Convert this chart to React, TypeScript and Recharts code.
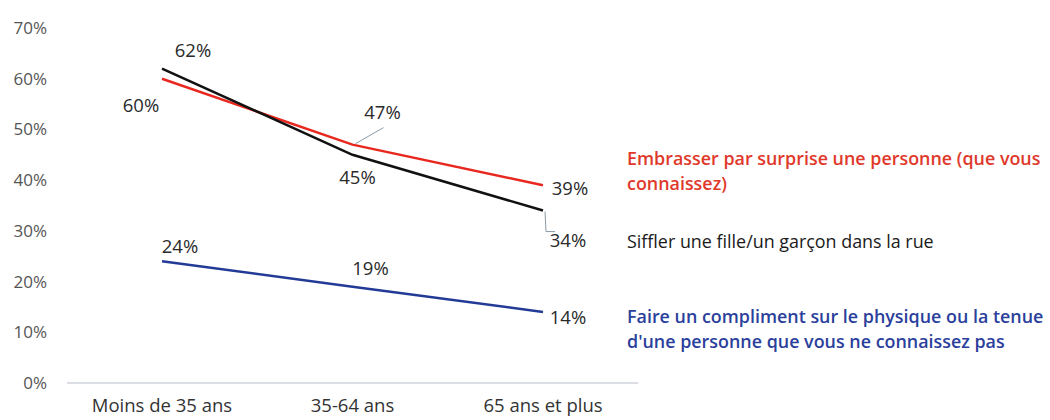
import React from "react";
import { LineChart, Line, XAxis, YAxis, LabelList } from "recharts";

const categories = ["Moins de 35 ans", "35-64 ans", "65 ans et plus"];
const embrasser = [60, 47, 39];
const siffler = [62, 45, 34];
const compliment = [24, 19, 14];
const yTicks = [0, 10, 20, 30, 40, 50, 60, 70];

const seriesNames = {
  embrasser: ["Embrasser par surprise une personne (que vous", "connaissez)"],
  siffler: ["Siffler une fille/un garçon dans la rue"],
  compliment: ["Faire un compliment sur le physique ou la tenue", "d'une personne que vous ne connaissez pas"],
};

const data = categories.map((c, i) => ({
  cat: c,
  embrasser: embrasser[i],
  siffler: siffler[i],
  compliment: compliment[i],
}));

const FONT = "'Open Sans', sans-serif";
const RED = "#e8281e";
const BLACK = "#111111";
const BLUE = "#233a96";

type Off = { dx: number; dy: number; leader?: number[][] };

const offsets: Record<string, Off[]> = {
  embrasser: [{ dx: -21, dy: 26 }, { dx: 30, dy: -33, leader: [[3, -1], [31, -17]] }, { dx: 27, dy: 2 }],
  siffler: [{ dx: 31, dy: -19 }, { dx: 5, dy: 22 }, { dx: 25, dy: 29, leader: [[2, 1], [3, 21], [12, 21]] }],
  compliment: [{ dx: 18, dy: -16 }, { dx: 18, dy: -19 }, { dx: 25, dy: 4 }],
};

const legendStyle: Record<string, { color: string; weight: number; dy: number[] }> = {
  embrasser: { color: "#e0392b", weight: 600, dy: [-27, -2] },
  siffler: { color: "#1a1a1a", weight: 400, dy: [30] },
  compliment: { color: "#2b3f9c", weight: 600, dy: [4, 29] },
};

const makeLabel = (key: string) => (props: any) => {
  const { x, y, value, index } = props;
  const o = offsets[key][index];
  const lead = o.leader;
  const last = index === categories.length - 1;
  const ls = legendStyle[key];
  return (
    <g>
      {lead && (
        <polyline
          points={lead.map((p) => `${x + p[0]},${y + p[1]}`).join(" ")}
          fill="none"
          stroke="#8a9aa5"
          strokeWidth={1}
        />
      )}
      <text
        x={x + o.dx}
        y={y + o.dy}
        textAnchor="middle"
        dominantBaseline="central"
        fontFamily={FONT}
        fontSize={18.5}
        fill="#2a2a2a"
      >
        {value}%
      </text>
      {last &&
        (seriesNames as any)[key].map((line: string, i: number) => (
          <text
            key={i}
            x={x + 84}
            y={y + ls.dy[i]}
            dominantBaseline="central"
            fontFamily={FONT}
            fontSize={17.9}
            fontWeight={ls.weight}
            fill={ls.color}
          >
            {line}
          </text>
        ))}
    </g>
  );
};

export default function App() {
  return (
    <div style={{ position: "absolute", left: 0, top: 0, background: "#fff" }}>
      <LineChart
        width={1050}
        height={420}
        data={data}
        margin={{ top: 28, right: 412, bottom: 7, left: 0 }}
      >
        <XAxis
          dataKey="cat"
          axisLine={{ stroke: "#cfd5db", strokeWidth: 1.5 }}
          tickLine={false}
          tickMargin={10}
          height={30}
          padding={{ left: 95, right: 95 }}
          tick={{ fontFamily: FONT, fontSize: 18.5, fill: "#333" }}
          interval={0}
        />
        <YAxis
          domain={[0, 70]}
          ticks={yTicks}
          tickFormatter={(v: number) => `${v}%`}
          axisLine={false}
          tickLine={false}
          width={67}
          tickMargin={14}
          tick={{ fontFamily: FONT, fontSize: 17, fill: "#555" }}
        />
        <Line dataKey="embrasser" stroke={RED} strokeWidth={2.5} dot={false} isAnimationActive={false}>
          <LabelList dataKey="embrasser" content={makeLabel("embrasser")} />
        </Line>
        <Line dataKey="siffler" stroke={BLACK} strokeWidth={2.5} dot={false} isAnimationActive={false}>
          <LabelList dataKey="siffler" content={makeLabel("siffler")} />
        </Line>
        <Line dataKey="compliment" stroke={BLUE} strokeWidth={2.5} dot={false} isAnimationActive={false}>
          <LabelList dataKey="compliment" content={makeLabel("compliment")} />
        </Line>
      </LineChart>
    </div>
  );
}
